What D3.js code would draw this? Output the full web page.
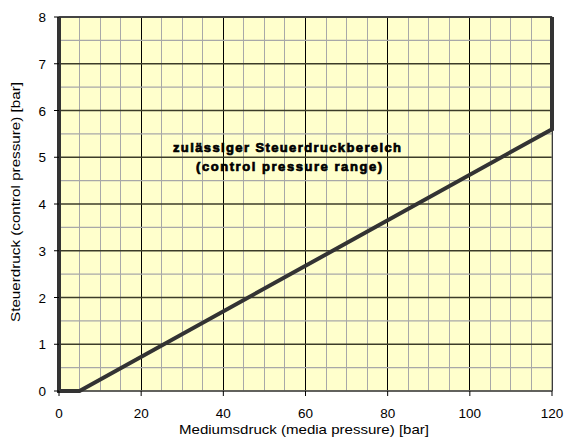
<!DOCTYPE html>
<html><head><meta charset="utf-8">
<script src="https://cdn.jsdelivr.net/npm/d3@7"></script>
<style>body{margin:0;background:#fff}svg{display:block}text{font-family:"Liberation Sans",Arial,sans-serif}</style>
</head><body>
<svg id="c" width="566" height="440"></svg>
<script>
const xTicks = [0,20,40,60,80,100,120];
const yTicks = [0,1,2,3,4,5,6,7,8];
const xMinor = d3.range(0,121,5);
const yMinor = d3.range(0,8.01,0.5);
// boundary of permissible control pressure region
const boundaryX = [120,120,5,0,0];
const boundaryY = [8,5.6,0,0,8];
const title1 = "zulässiger Steuerdruckbereich";
const title2 = "(control pressure range)";
const xLabel = "Mediumsdruck (media pressure) [bar]";
const yLabel = "Steuerdruck (control pressure) [bar]";

const svg = d3.select("#c");
const x = d3.scaleLinear().domain([0,120]).range([59,552]);
const y = d3.scaleLinear().domain([0,8]).range([391,17]);

svg.append("rect").attr("x",x(0)).attr("y",y(8)).attr("width",x(120)-x(0)).attr("height",y(0)-y(8)).attr("fill","#ffffcc");

svg.selectAll(".vm").data(xMinor).enter().append("line")
  .attr("x1",d=>x(d)).attr("x2",d=>x(d)).attr("y1",y(0)).attr("y2",y(8))
  .attr("stroke",d=>d%20===0?"#000":"#a8a8a8").attr("stroke-width",1).attr("shape-rendering","crispEdges");
svg.selectAll(".hm").data(yMinor).enter().append("line")
  .attr("x1",x(0)).attr("x2",x(120)).attr("y1",d=>y(d)).attr("y2",d=>y(d))
  .attr("stroke",d=>d%1===0?"#3c3c28":"#a8a8a8").attr("stroke-width",d=>d%1===0?1.3:1.2);

// frame
svg.append("rect").attr("x",x(0)).attr("y",y(8)).attr("width",x(120)-x(0)).attr("height",y(0)-y(8))
  .attr("fill","none").attr("stroke","#777").attr("stroke-width",1);
svg.append("line").attr("x1",x(0)).attr("x2",x(120)).attr("y1",y(8)).attr("y2",y(8)).attr("stroke","#444").attr("stroke-width",2);
svg.append("line").attr("x1",x(0)).attr("x2",x(120)).attr("y1",y(0)).attr("y2",y(0)).attr("stroke","#555").attr("stroke-width",1);

const pts = boundaryX.map((v,i)=>[x(v),y(boundaryY[i])]);
svg.append("path").attr("d",d3.line()(pts)).attr("fill","none").attr("stroke","#333").attr("stroke-width",4).attr("stroke-linejoin","miter");

// ticks
const ax = svg.append("g");
ax.selectAll(".xt").data(xTicks).enter().append("line")
  .attr("x1",d=>x(d)).attr("x2",d=>x(d)).attr("y1",y(0)).attr("y2",y(0)+5).attr("stroke","#000");
ax.selectAll(".xl").data(xTicks).enter().append("text")
  .attr("x",d=>x(d)).attr("y",418).attr("text-anchor","middle").attr("font-size",13.5).text(d=>d);
ax.selectAll(".yt").data(yTicks).enter().append("line")
  .attr("x1",x(0)-5).attr("x2",x(0)).attr("y1",d=>y(d)).attr("y2",d=>y(d)).attr("stroke","#000");
ax.selectAll(".yl").data(yTicks).enter().append("text")
  .attr("x",46).attr("y",d=>y(d)+5).attr("text-anchor","end").attr("font-size",13.5).text(d=>d);

svg.append("text").attr("x",304).attr("y",434).attr("text-anchor","middle").attr("font-size",13.5)
  .attr("textLength",250).attr("lengthAdjust","spacingAndGlyphs").text(xLabel);
svg.append("text").attr("transform","translate(20,202) rotate(-90)").attr("text-anchor","middle").attr("font-size",13.5)
  .attr("textLength",240).attr("lengthAdjust","spacingAndGlyphs").text(yLabel);

svg.append("text").attr("x",287).attr("y",152).attr("text-anchor","middle").attr("font-size",13).attr("font-weight","bold")
  .attr("textLength",228).attr("lengthAdjust","spacing").attr("stroke","#000").attr("stroke-width",0.7).text(title1);
svg.append("text").attr("x",289).attr("y",171).attr("text-anchor","middle").attr("font-size",13).attr("font-weight","bold")
  .attr("textLength",186).attr("lengthAdjust","spacing").attr("stroke","#000").attr("stroke-width",0.7).text(title2);
</script>
</body></html>
